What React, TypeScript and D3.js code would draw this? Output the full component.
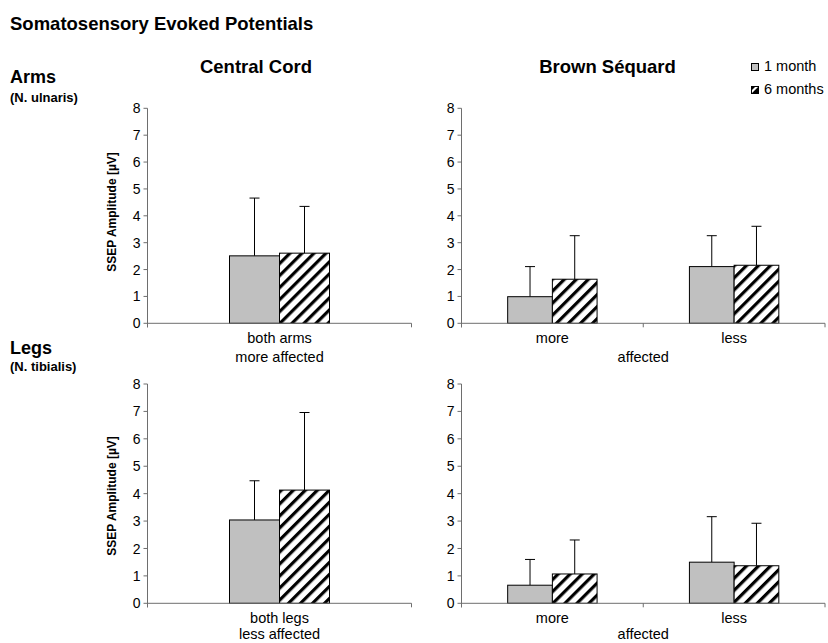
import React from "react";
import * as d3 from "d3";

// values: mean and SD (error bars go up only)
const seriesNames = ["1 month", "6 months"];
const yTicks = [0, 1, 2, 3, 4, 5, 6, 7, 8];

const centralCats = ["both"];
const bsCats = ["more", "less"];

const armsCentralMean = [[2.51, 2.61]];
const armsCentralSd = [[2.15, 1.74]];
const armsBsMean = [[0.99, 1.64], [2.11, 2.16]];
const armsBsSd = [[1.12, 1.62], [1.15, 1.45]];

const legsCentralMean = [[3.04, 4.13]];
const legsCentralSd = [[1.43, 2.83]];
const legsBsMean = [[0.66, 1.07], [1.5, 1.37]];
const legsBsSd = [[0.94, 1.24], [1.66, 1.55]];

const FONT = "'Liberation Sans', Arial, Helvetica, sans-serif";
const AXIS = "#6e6e6e";

type PanelProps = {
  x0: number;
  x1: number;
  yZero: number;
  yTop: number;
  cats: string[];
  catLabels: string[];
  groupLabel: string;
  groupDy: number;
  mean: number[][];
  sd: number[][];
  barW: number;
  showYLabel?: boolean;
  yLabelY?: number;
};

function Panel({ x0, x1, yZero, yTop, cats, catLabels, groupLabel, groupDy, mean, sd, barW, showYLabel, yLabelY }: PanelProps) {
  const x = d3.scaleBand<string>().domain(cats).range([x0, x1]).paddingInner(0).paddingOuter(0);
  const y = d3.scaleLinear().domain([0, 8]).range([yZero, yTop]);
  const bw = x.bandwidth();
  const xs = d3.scaleBand<string>().domain(seriesNames).range([0, barW * 2]);
  const boundaries = [x0, ...cats.map((c) => (x(c) as number) + bw)];

  return (
    <g>
      {/* y axis */}
      <line x1={x0} x2={x0} y1={y(8)} y2={yZero + 4} stroke={AXIS} />
      {yTicks.map((t) => (
        <g key={t}>
          <line x1={x0 - 4} x2={x0} y1={y(t)} y2={y(t)} stroke={AXIS} />
          <text x={x0 - 7} y={y(t)} dy="0.36em" textAnchor="end" fontSize={14} fontFamily={FONT}>
            {t}
          </text>
        </g>
      ))}
      {showYLabel && (
        <text
          transform={`translate(${x0 - 32},${yLabelY}) rotate(-90)`}
          textAnchor="middle"
          fontSize={12}
          fontWeight="bold"
          fontFamily={FONT}
        >
          SSEP Amplitude [µV]
        </text>
      )}

      {/* bars */}
      {cats.map((c, ci) => {
        const cx = (x(c) as number) + bw / 2 - barW;
        return (
          <g key={c}>
            {seriesNames.map((s, si) => {
              const bx = cx + (xs(s) as number);
              const v = mean[ci][si];
              const top = y(v + sd[ci][si]);
              const mid = bx + barW / 2;
              return (
                <g key={s}>
                  <line x1={mid} x2={mid} y1={y(v)} y2={top} stroke="#000" />
                  <line x1={mid - 5} x2={mid + 5} y1={top} y2={top} stroke="#000" />
                  <rect
                    x={bx}
                    y={y(v)}
                    width={barW}
                    height={yZero - y(v)}
                    fill={si === 0 ? "#c0c0c0" : "url(#hatch)"}
                    stroke="#000"
                    strokeWidth={1}
                  />
                </g>
              );
            })}
            <text x={(x(c) as number) + bw / 2} y={yZero + 20} textAnchor="middle" fontSize={14.5} fontFamily={FONT}>
              {catLabels[ci]}
            </text>
          </g>
        );
      })}

      {/* x axis */}
      <line x1={x0} x2={x1} y1={yZero} y2={yZero} stroke={AXIS} />
      {boundaries.map((b, i) => (
        <line key={i} x1={b} x2={b} y1={yZero} y2={yZero + 4} stroke={AXIS} />
      ))}
      <text x={(x0 + x1) / 2} y={yZero + groupDy} textAnchor="middle" fontSize={14.5} fontFamily={FONT}>
        {groupLabel}
      </text>
    </g>
  );
}

export default function App() {
  return (
    <svg width={828} height={643} style={{ position: "absolute", left: 0, top: 0, background: "#fff" }}>
      <defs>
        <pattern id="hatch" patternUnits="userSpaceOnUse" width={8.5} height={8.5} patternTransform="rotate(45)">
          <rect width={8.5} height={8.5} fill="#fff" />
          <rect width={3.2} height={8.5} fill="#000" />
        </pattern>
      </defs>
      <rect width={828} height={643} fill="#fff" />

      <text x={10} y={29.5} fontSize={18.5} fontWeight="bold" fontFamily={FONT}>
        Somatosensory Evoked Potentials
      </text>
      <text x={10} y={83} fontSize={18} fontWeight="bold" fontFamily={FONT}>
        Arms
      </text>
      <text x={10} y={101.5} fontSize={13} fontWeight="bold" fontFamily={FONT}>
        (N. ulnaris)
      </text>
      <text x={10} y={353.5} fontSize={18} fontWeight="bold" fontFamily={FONT}>
        Legs
      </text>
      <text x={10} y={371} fontSize={13} fontWeight="bold" fontFamily={FONT}>
        (N. tibialis)
      </text>
      <text x={256} y={72.7} textAnchor="middle" fontSize={18.5} fontWeight="bold" fontFamily={FONT}>
        Central Cord
      </text>
      <text x={607.5} y={72.7} textAnchor="middle" fontSize={18.5} fontWeight="bold" fontFamily={FONT}>
        Brown Séquard
      </text>

      {/* legend */}
      <g fontFamily={FONT} fontSize={14.5}>
        <rect x={751.5} y={63.5} width={7} height={7} fill="#c0c0c0" stroke="#000" />
        <text x={764} y={70.5}>{seriesNames[0]}</text>
        <rect x={751.5} y={86.5} width={7} height={7} fill="#fff" stroke="#000" />
        <path d="M751.5,93.5 L751.5,86.5 L755.5,86.5 L751.5,90.5 Z M751.5,93.5 L758.5,86.5 L758.5,93.5 Z" fill="#000" />
        <text x={764} y={93.5}>{seriesNames[1]}</text>
      </g>

      <Panel
        x0={147.5}
        x1={411.5}
        yZero={323.3}
        yTop={108.3}
        cats={centralCats}
        catLabels={["both arms"]}
        groupLabel="more affected"
        groupDy={38.5}
        mean={armsCentralMean}
        sd={armsCentralSd}
        barW={50}
        showYLabel
        yLabelY={212}
      />
      <Panel
        x0={461.5}
        x1={825}
        yZero={323.3}
        yTop={108.3}
        cats={bsCats}
        catLabels={["more", "less"]}
        groupLabel="affected"
        groupDy={38.5}
        mean={armsBsMean}
        sd={armsBsSd}
        barW={44.7}
      />
      <Panel
        x0={147.5}
        x1={411.5}
        yZero={603.3}
        yTop={384}
        cats={centralCats}
        catLabels={["both legs"]}
        groupLabel="less affected"
        groupDy={36}
        mean={legsCentralMean}
        sd={legsCentralSd}
        barW={50}
        showYLabel
        yLabelY={496}
      />
      <Panel
        x0={461.5}
        x1={825}
        yZero={603.3}
        yTop={384}
        cats={bsCats}
        catLabels={["more", "less"]}
        groupLabel="affected"
        groupDy={36}
        mean={legsBsMean}
        sd={legsBsSd}
        barW={44.7}
      />
    </svg>
  );
}
